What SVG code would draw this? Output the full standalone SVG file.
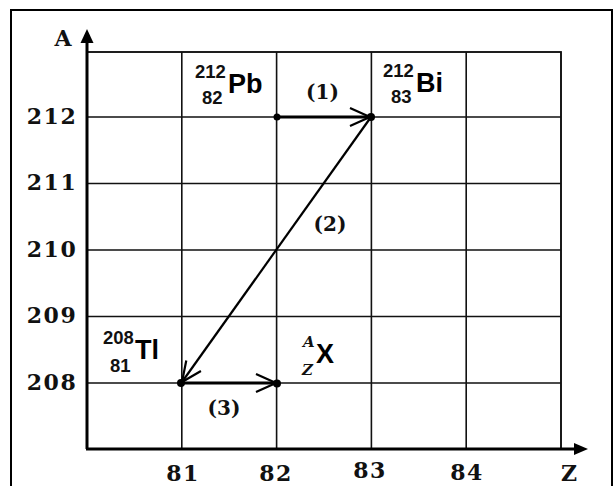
<svg xmlns="http://www.w3.org/2000/svg" width="615" height="486" viewBox="0 0 615 486">
<style>
.grid{stroke:#111;stroke-width:1.6;fill:none}
.axis{stroke:#000;stroke-width:3;fill:none}
.tick{font-family:"DejaVu Serif","Liberation Serif",serif;font-weight:bold;font-size:22px;letter-spacing:1.5px;fill:#111;text-anchor:middle}
.lbl{font-family:"DejaVu Serif","Liberation Serif",serif;font-weight:bold;font-size:20px;fill:#111;text-anchor:middle}
.sym{font-family:"Liberation Sans",Arial,sans-serif;font-weight:bold;font-size:27px;fill:#000}
.num{font-family:"Liberation Sans",Arial,sans-serif;font-weight:bold;font-size:18.5px;fill:#111}
.it{font-family:"DejaVu Serif","Liberation Serif",serif;font-weight:bold;font-style:italic;font-size:15px;fill:#111}
.conn{stroke:#000;fill:none}
</style>
<defs>
<marker id="chev" markerUnits="userSpaceOnUse" markerWidth="30" markerHeight="30" viewBox="-25 -15 30 30" refX="0" refY="0" orient="auto">
<path d="M-20,-9 L0,0 L-20,9" fill="none" stroke="#000" stroke-width="2.2"/>
</marker>
</defs>
<rect x="11" y="10" width="601" height="500" fill="#fff" stroke="#000" stroke-width="2"/>
<g id="grid">
<path class="grid" d="M87,52H561V449M87,117H561M87,183.5H561M87,250H561M87,316.5H561M87,383H561M181.8,52V449M276.6,52V449M371.4,52V449M466.2,52V449"/>
<path class="grid" d="M87,52H561V449" stroke-width="2.2"/>
</g>
<g id="axes">
<path class="axis" d="M87,449V40"/>
<path class="axis" d="M86,449H576"/>
<polygon points="87,29 80.5,43 93.5,43" fill="#000"/>
<polygon points="588,449 574,443 574,455" fill="#000"/>
<text class="tick" x="63" y="46" style="letter-spacing:0">A</text>
<text class="tick" x="569" y="481" style="letter-spacing:0">Z</text>
<text class="tick" x="52" y="123.5">212</text>
<text class="tick" x="52" y="190">211</text>
<text class="tick" x="52" y="256.5">210</text>
<text class="tick" x="52" y="323">209</text>
<text class="tick" x="52" y="389.5">208</text>
<text class="tick" x="183" y="480.5">81</text>
<text class="tick" x="276" y="481">82</text>
<text class="tick" x="370" y="478">83</text>
<text class="tick" x="467" y="479.5">84</text>
</g>
<g id="connectors">
<line class="conn" x1="277" y1="117" x2="370" y2="117" stroke-width="3" marker-end="url(#chev)"/>
<line class="conn" x1="371" y1="117" x2="182" y2="382" stroke-width="2.2" marker-end="url(#chev)"/>
<line class="conn" x1="181" y1="383" x2="276" y2="383" stroke-width="3" marker-end="url(#chev)"/>
<circle cx="277" cy="117" r="3.5" fill="#000"/>
<circle cx="371" cy="117" r="4" fill="#000"/>
<circle cx="181" cy="383" r="4" fill="#000"/>
<circle cx="277" cy="383.5" r="4" fill="#000"/>
<text class="lbl" x="322.5" y="99">(1)</text>
<text class="lbl" x="330" y="231">(2)</text>
<text class="lbl" x="224" y="415">(3)</text>
</g>
<g id="node-Pb">
<text class="num" x="195" y="78">212</text>
<text class="num" x="202" y="104">82</text>
<text class="sym" x="228" y="93">Pb</text>
</g>
<g id="node-Bi">
<text class="num" x="383" y="77">212</text>
<text class="num" x="391" y="103">83</text>
<text class="sym" x="416" y="92">Bi</text>
</g>
<g id="node-Tl">
<text class="num" x="103" y="344">208</text>
<text class="num" x="110" y="372">81</text>
<text class="sym" x="135" y="359">Tl</text>
</g>
<g id="node-X">
<text class="it" x="303" y="347">A</text>
<text class="it" x="302" y="375">Z</text>
<text class="sym" x="316" y="363">X</text>
</g>
</svg>
